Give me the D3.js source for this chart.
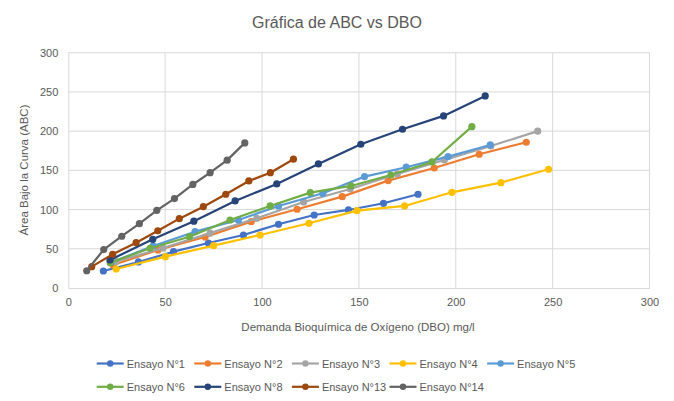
<!DOCTYPE html>
<html>
<head>
<meta charset="utf-8">
<script src="https://cdn.jsdelivr.net/npm/d3@7"></script>
<style>
  body { margin: 0; background: #fff; }
  text { font-family: "Liberation Sans", Arial, sans-serif; }
</style>
</head>
<body>
<div id="container"></div>
<script>
let w = 674;
let h = 401;

// series names and colours
let names = ["Ensayo N°1", "Ensayo N°2", "Ensayo N°3", "Ensayo N°4", "Ensayo N°5",
             "Ensayo N°6", "Ensayo N°8", "Ensayo N°13", "Ensayo N°14"];
let colors = ["#4472C4", "#ED7D31", "#A5A5A5", "#FFC000", "#5B9BD5",
              "#70AD47", "#264478", "#9E480E", "#636363"];

// DBO (x) and ABC (y)
let dbo1 = [18.1, 36.2, 54.3, 72.3, 90.4, 108.5, 126.9, 144.6, 162.7, 180.5];
let abc1 = [21.7, 33.2, 46.3, 57.4, 67.6, 81.3, 93.1, 99.5, 108, 119.5];
let dbo2 = [23.1, 46.3, 70.6, 94.4, 118.1, 141.4, 165.1, 188.9, 212.1, 236.4];
let abc2 = [29.3, 48.5, 65, 84.6, 100.4, 116.5, 136.9, 153, 170.5, 185.8];
let dbo3 = [24.7, 48.9, 73.2, 97.3, 121.5, 145.5, 169.8, 194.1, 218.1, 242.3];
let abc3 = [33.7, 51, 70, 88.9, 109.7, 126.3, 145.4, 163.3, 181.1, 200];
let dbo4 = [24.7, 50.1, 75, 99, 124.2, 149, 173.6, 198, 223.3, 247.9];
let abc4 = [24.2, 40, 54, 67.6, 82.5, 98.6, 104.6, 122, 134.3, 151.4];
let dbo5 = [22, 43.8, 65.4, 87.8, 108.5, 131.4, 152.9, 174.4, 196, 217.8];
let abc5 = [32.5, 53.6, 71.8, 86.7, 104.6, 120.8, 142, 154, 167.5, 182.4];
let dbo6 = [21.6, 42.2, 62.5, 83.5, 104.2, 124.9, 145.9, 166.5, 187.7, 208.3];
let abc6 = [32.3, 50.6, 65.4, 86.7, 104.6, 121.6, 130.1, 144.1, 160.7, 205.7];
let dbo8 = [21.5, 43.6, 64.8, 86.1, 107.6, 129.1, 151, 172.5, 193.7, 215.2];
let abc8 = [35.7, 62.1, 85.2, 111, 132.7, 158.2, 183.3, 202.4, 219.4, 244.9];
let dbo13 = [12.1, 22.9, 35, 46.2, 57.3, 69.7, 81.3, 93.2, 104.3, 116.2];
let abc13 = [27.2, 43, 57.8, 73, 88.4, 103.7, 119.5, 136.5, 147, 164.2];
let dbo14 = [9.5, 18.3, 27.6, 36.7, 45.7, 54.8, 64.3, 73.2, 82, 91.1];
let abc14 = [22, 49, 66, 82, 99, 114, 132, 147, 163, 185];

let xs = [dbo1, dbo2, dbo3, dbo4, dbo5, dbo6, dbo8, dbo13, dbo14];
let ys = [abc1, abc2, abc3, abc4, abc5, abc6, abc8, abc13, abc14];

let xTicks = [0, 50, 100, 150, 200, 250, 300];
let yTicks = [0, 50, 100, 150, 200, 250, 300];

let series = names.map(function(n, i){
  return {
    name: n,
    color: colors[i],
    points: xs[i].map(function(x, j){ return {x: x, y: ys[i][j]}; })
  };
});

let viz = d3.select("#container")
  .append("svg")
    .attr("width", w)
    .attr("height", h)
    .style("background-color", "#ffffff");

let xScale = d3.scaleLinear().domain([0, 300]).range([68.3, 649.5]);
let yScale = d3.scaleLinear().domain([0, 300]).range([288, 52.7]);

// gridlines
viz.append("g").selectAll("line").data(yTicks.slice(1)).enter()
  .append("line")
    .attr("x1", xScale(0)).attr("x2", xScale(300))
    .attr("y1", d => yScale(d)).attr("y2", d => yScale(d))
    .attr("stroke", "#D9D9D9").attr("stroke-width", 1);
viz.append("g").selectAll("line").data(xTicks.slice(1)).enter()
  .append("line")
    .attr("x1", d => xScale(d)).attr("x2", d => xScale(d))
    .attr("y1", yScale(0)).attr("y2", yScale(300))
    .attr("stroke", "#D9D9D9").attr("stroke-width", 1);

// axes
let xAxis = d3.axisBottom(xScale).tickValues(xTicks).tickSize(0).tickPadding(10);
let xAxisGroup = viz.append("g").attr("class", "xaxis")
  .attr("transform", "translate(0," + yScale(0) + ")")
  .call(xAxis);
xAxisGroup.select(".domain").attr("stroke", "#D9D9D9");

let yAxis = d3.axisLeft(yScale).tickValues(yTicks).tickSize(0).tickPadding(10);
let yAxisGroup = viz.append("g").attr("class", "yaxis")
  .attr("transform", "translate(" + xScale(0) + ",0)")
  .call(yAxis);
yAxisGroup.select(".domain").attr("stroke", "#D9D9D9");

viz.selectAll(".xaxis text, .yaxis text")
  .attr("fill", "#595959")
  .style("font-family", "'Liberation Sans', Arial, sans-serif")
  .style("font-size", "11px");

// lines and markers
let line = d3.line().x(d => xScale(d.x)).y(d => yScale(d.y));
let groups = viz.selectAll(".datagroup").data(series).enter()
  .append("g").attr("class", "datagroup");
groups.append("path")
  .attr("d", d => line(d.points))
  .attr("fill", "none")
  .attr("stroke", d => d.color)
  .attr("stroke-width", 2.2)
  .attr("stroke-linejoin", "round");
groups.each(function(s){
  d3.select(this).selectAll("circle").data(s.points).enter()
    .append("circle")
      .attr("cx", d => xScale(d.x))
      .attr("cy", d => yScale(d.y))
      .attr("r", 3.6)
      .attr("fill", s.color);
});

// titles
viz.append("text")
  .text("Gráfica de ABC vs DBO")
  .attr("x", 337).attr("y", 28)
  .attr("text-anchor", "middle")
  .attr("fill", "#595959")
  .style("font-size", "16px");

viz.append("text")
  .text("Demanda Bioquímica de Oxígeno (DBO) mg/l")
  .attr("x", 358).attr("y", 331)
  .attr("text-anchor", "middle")
  .attr("fill", "#595959")
  .style("font-size", "11.5px");

viz.append("text")
  .text("Área Bajo la Curva (ABC)")
  .attr("text-anchor", "middle")
  .attr("fill", "#595959")
  .style("font-size", "11.5px")
  .attr("transform", "translate(28,170),rotate(-90)");

// legend
let legend = viz.selectAll(".legenditem").data(series).enter()
  .append("g")
    .attr("class", "legenditem")
    .attr("transform", function(d, i){
      let col = i < 5 ? i : i - 5;
      let row = i < 5 ? 0 : 1;
      return "translate(" + (96.7 + col * 97.6) + "," + (363.5 + row * 23.3) + ")";
    });
legend.append("line")
  .attr("x1", 0).attr("x2", 27)
  .attr("y1", 0).attr("y2", 0)
  .attr("stroke", d => d.color)
  .attr("stroke-width", 2.2);
legend.append("circle")
  .attr("cx", 13.5).attr("cy", 0).attr("r", 3.2)
  .attr("fill", d => d.color);
legend.append("text")
  .text(d => d.name)
  .attr("x", 30).attr("y", 4)
  .attr("fill", "#595959")
  .style("font-size", "11px");
</script>
</body>
</html>
